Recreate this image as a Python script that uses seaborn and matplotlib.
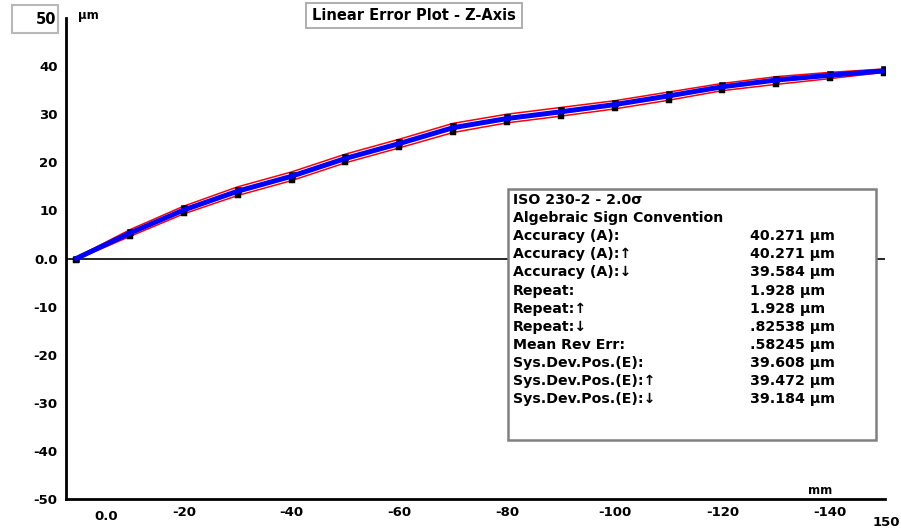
import numpy as np
import pandas as pd
import matplotlib
matplotlib.use("Agg")
import matplotlib.pyplot as plt
import matplotlib.patches as mpatches
import seaborn as sns

# measured positions (mm) and errors (um)
positions = [0, -10, -20, -30, -40, -50, -60, -70, -80, -90, -100, -110, -120, -130, -140, -150]
mean_err = [0.0, 5.3, 10.1, 14.0, 17.1, 20.8, 23.9, 27.2, 29.1, 30.5, 32.0, 33.8, 35.7, 37.1, 38.1, 39.0]
upper_band = [0.2, 6.0, 10.9, 14.9, 18.0, 21.7, 24.8, 28.1, 30.0, 31.4, 32.8, 34.6, 36.4, 37.8, 38.7, 39.4]
lower_band = [-0.2, 4.6, 9.3, 13.1, 16.2, 19.9, 23.0, 26.2, 28.2, 29.6, 31.1, 32.9, 34.9, 36.2, 37.4, 38.7]
run_fwd = [0.0, 5.6, 10.4, 14.3, 17.4, 21.1, 24.2, 27.6, 29.5, 30.9, 32.3, 34.1, 36.0, 37.4, 38.4, 39.3]
run_rev = [-0.4, 4.7, 9.5, 13.3, 16.4, 20.0, 23.1, 26.3, 28.3, 29.7, 31.2, 33.0, 35.0, 36.3, 37.5, 38.6]

y_ticks = [50, 40, 30, 20, 10, 0, -10, -20, -30, -40, -50]
y_labels = ["", "40", "30", "20", "10", "0.0", "-10", "-20", "-30", "-40", "-50"]
x_ticks = [-20, -40, -60, -80, -100, -120, -140, -150]
x_labels = ["-20", "-40", "-60", "-80", "-100", "-120", "-140", ""]

stat_names = ["Accuracy (A):", "Accuracy (A):\u2191", "Accuracy (A):\u2193",
              "Repeat:", "Repeat:\u2191", "Repeat:\u2193", "Mean Rev Err:",
              "Sys.Dev.Pos.(E):", "Sys.Dev.Pos.(E):\u2191", "Sys.Dev.Pos.(E):\u2193"]
stat_values = ["40.271 \u00b5m", "40.271 \u00b5m", "39.584 \u00b5m", "1.928 \u00b5m",
               "1.928 \u00b5m", ".82538 \u00b5m", ".58245 \u00b5m", "39.608 \u00b5m",
               "39.472 \u00b5m", "39.184 \u00b5m"]

df = pd.DataFrame({"pos": positions, "mean": mean_err, "upper": upper_band,
                   "lower": lower_band, "fwd": run_fwd, "rev": run_rev})

sns.set_style("white")
plt.rcParams["font.family"] = ["DejaVu Sans"]
plt.rcParams["font.weight"] = "bold"
plt.rcParams["text.color"] = "black"
plt.rcParams["xtick.color"] = "black"
plt.rcParams["ytick.color"] = "black"

W, H = 901, 529
fig = plt.figure(figsize=(W / 100, H / 100), dpi=100)
ax = fig.add_axes([66 / W, 1 - 499 / H, (885 - 66) / W, (499 - 18) / H])


def fx(px):
    return px / W


def fy(py):
    return 1 - py / H


ax.axhline(0, color="black", lw=1.2, zorder=1)
sns.lineplot(data=df, x="pos", y="upper", color="red", lw=1.1, ax=ax, zorder=3)
sns.lineplot(data=df, x="pos", y="lower", color="red", lw=1.1, ax=ax, zorder=3)
sns.scatterplot(data=df, x="pos", y="fwd", color="black", marker="s", s=24,
                edgecolor="black", ax=ax, zorder=4)
sns.scatterplot(data=df, x="pos", y="rev", color="black", marker="s", s=18,
                edgecolor="black", ax=ax, zorder=4)
sns.lineplot(data=df, x="pos", y="mean", color="#0000ff", lw=3.6, ax=ax, zorder=5)

ax.set_xlim(1.9, -150.2)
ax.set_ylim(-50, 50)
ax.set_xlabel("")
ax.set_ylabel("")

for side in ["top", "right"]:
    ax.spines[side].set_visible(False)
for side in ["left", "bottom"]:
    ax.spines[side].set_linewidth(2)
    ax.spines[side].set_color("black")

ax.set_yticks(y_ticks)
ax.set_yticklabels(y_labels, fontsize=9.5, fontweight="bold")
ax.tick_params(axis="y", direction="out", length=5, width=2, pad=1)
ax.set_xticks(x_ticks)
ax.set_xticklabels(x_labels, fontsize=9.5, fontweight="bold")
ax.tick_params(axis="x", direction="in", length=7, width=2, pad=5)

# odd labels of the original software
fig.text(fx(106), fy(516), "0.0", ha="center", va="center", fontsize=9.5, fontweight="bold")
fig.text(fx(900), fy(522), "150", ha="right", va="center", fontsize=9.5, fontweight="bold")
field = mpatches.Rectangle((fx(12), fy(33)), fx(58) - fx(12), fy(5) - fy(33),
                           transform=fig.transFigure, fc="white", ec="#b8b8b8", lw=1.5)
fig.patches.append(field)
fig.text(fx(56), fy(19), "50", ha="right", va="center", fontsize=10.5, fontweight="bold")
fig.text(fx(78), fy(16), "\u00b5m", ha="left", va="center", fontsize=8.5, fontweight="bold")
fig.text(fx(820), fy(491), "mm", ha="center", va="center", fontsize=8.5, fontweight="bold")
title_box = mpatches.Rectangle((fx(306), fy(28)), fx(522) - fx(306), fy(3) - fy(28),
                               transform=fig.transFigure, fc="white", ec="#a8a8a8", lw=1.3)
fig.patches.append(title_box)
fig.text(fx(312), fy(15), "Linear Error Plot - Z-Axis", ha="left", va="center",
         fontsize=10.5, fontweight="bold")

# statistics box
box = mpatches.Rectangle((fx(508), fy(440)), fx(876) - fx(508), fy(189) - fy(440),
                         transform=fig.transFigure, fc="white", ec="#808080", lw=1.8,
                         zorder=10)
fig.patches.append(box)

lines_y = [200 + 18.1 * i for i in range(12)]
fig.text(fx(513), fy(lines_y[0]), "ISO 230-2 - 2.0\u03c3", ha="left", va="center",
         fontsize=10.2, fontweight="bold", zorder=11)
fig.text(fx(513), fy(lines_y[1]), "Algebraic Sign Convention", ha="left", va="center",
         fontsize=10.2, fontweight="bold", zorder=11)
for i, (name, val) in enumerate(zip(stat_names, stat_values)):
    fig.text(fx(513), fy(lines_y[i + 2]), name, ha="left", va="center",
             fontsize=10.2, fontweight="bold", zorder=11)
    fig.text(fx(750), fy(lines_y[i + 2]), val, ha="left", va="center",
             fontsize=10.2, fontweight="bold", zorder=11)

fig.savefig("out.png", dpi=100, facecolor="white")
